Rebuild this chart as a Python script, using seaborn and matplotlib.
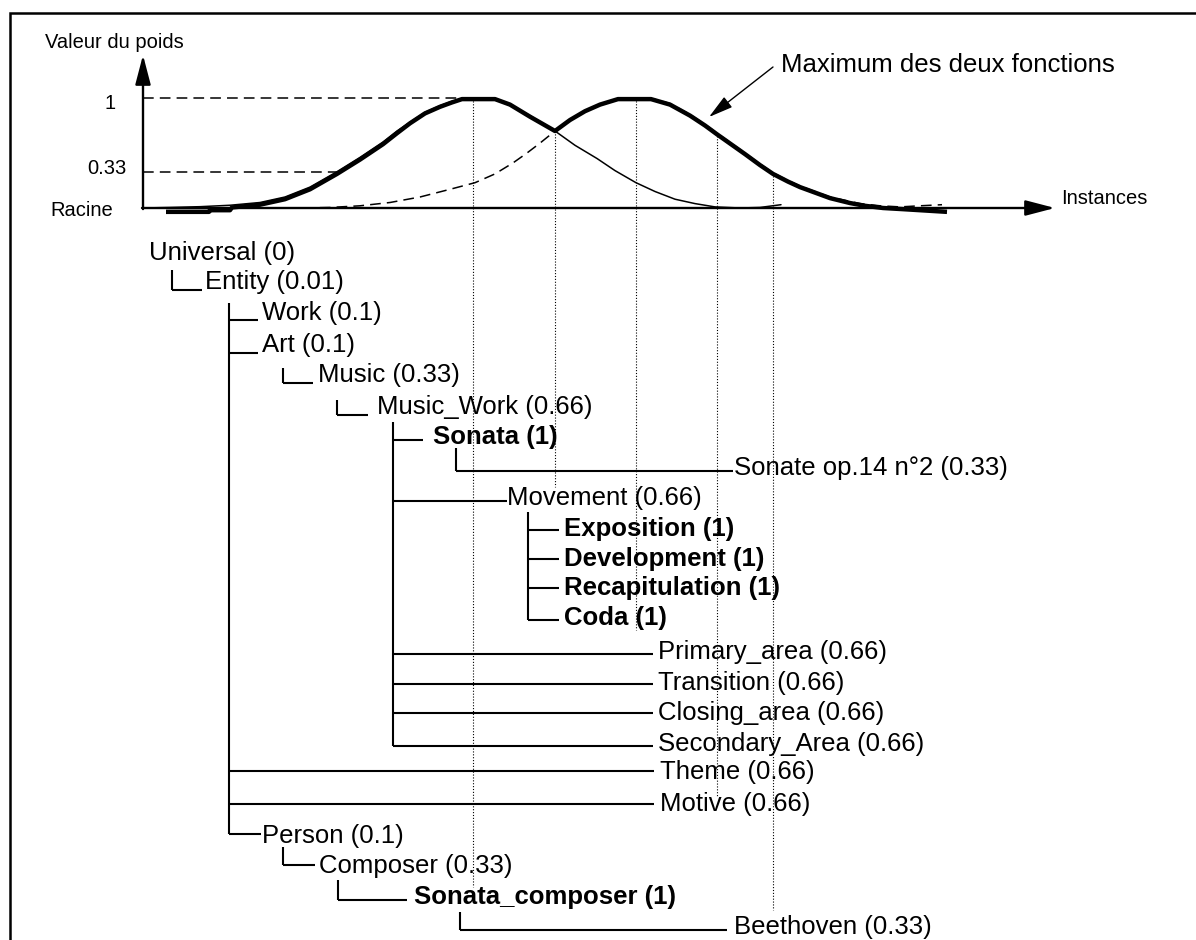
import matplotlib
matplotlib.use("Agg")
import matplotlib.pyplot as plt
import seaborn as sns

sns.set_theme(style="white")
plt.rcParams['font.family'] = ['Liberation Sans', 'DejaVu Sans']
plt.rcParams['text.color'] = 'black'

# ---------------- data ----------------
# instance positions (arbitrary units) and weight values of the two functions
f1_inst = [0, 27, 57, 87, 117, 142, 167, 194, 217, 240, 254, 267, 282, 297, 309, 319,
           334, 349, 367, 387, 412, 432, 454, 472, 493, 512, 532, 552, 572, 597, 617, 638]
f1_w = [0.0, 0.005, 0.012, 0.025, 0.05, 0.10, 0.19, 0.33, 0.46, 0.60, 0.70, 0.78, 0.87,
        0.93, 0.97, 0.99, 1.0, 0.99, 0.94, 0.84, 0.70, 0.57, 0.45, 0.34, 0.23, 0.15, 0.08,
        0.04, 0.01, 0.0, 0.005, 0.03]

f2_inst = [160, 187, 217, 247, 277, 307, 332, 352, 370, 384, 397, 412, 427, 442, 457,
           475, 493, 511, 527, 547, 562, 574, 588, 602, 617, 630, 645, 657, 672, 687,
           702, 717, 737, 757, 777, 799]
f2_w = [0.0, 0.005, 0.02, 0.05, 0.10, 0.17, 0.23, 0.31, 0.41, 0.50, 0.59, 0.70, 0.80,
        0.88, 0.94, 0.99, 1.0, 0.99, 0.95, 0.85, 0.76, 0.68, 0.59, 0.50, 0.40, 0.32, 0.25,
        0.20, 0.15, 0.10, 0.07, 0.04, 0.02, 0.01, 0.02, 0.03]

max_inst = [23, 66, 67, 87, 89, 117, 142, 167, 194, 217, 240, 254, 267, 282, 297, 309,
            319, 352, 367, 387, 412, 427, 442, 457, 475, 508, 527, 547, 562, 574, 588,
            602, 617, 630, 645, 657, 672, 687, 707, 722, 740, 759, 804]
max_w = [-0.035, -0.035, -0.02, -0.02, 0.005, 0.03, 0.08, 0.17, 0.31, 0.44, 0.58, 0.68,
         0.77, 0.86, 0.92, 0.96, 0.99, 0.99, 0.94, 0.83, 0.70, 0.80, 0.88, 0.94, 0.99,
         0.99, 0.94, 0.84, 0.75, 0.67, 0.58, 0.49, 0.39, 0.31, 0.24, 0.19, 0.14, 0.09,
         0.045, 0.02, 0.0, -0.01, -0.035]

tick_weights = [1, 0.33]
tick_labels = ["1", "0.33"]
tick_ref_end = [330, 194]          # where the dashed reference lines stop

guide_inst = [330, 412, 493, 574, 630]   # dotted guides
guide_w = [1.0, 0.70, 1.0, 0.68, 0.32]

node_names = ["Universal", "Entity", "Work", "Art", "Music", "Music_Work", "Sonata",
              "Sonate op.14 n°2", "Movement", "Exposition", "Development",
              "Recapitulation", "Coda", "Primary_area", "Transition", "Closing_area",
              "Secondary_Area", "Theme", "Motive", "Person", "Composer",
              "Sonata_composer", "Beethoven"]
node_weights = [0, 0.01, 0.1, 0.1, 0.33, 0.66, 1, 0.33, 0.66, 1, 1, 1, 1, 0.66, 0.66,
                0.66, 0.66, 0.66, 0.66, 0.1, 0.33, 1, 0.33]
node_parent = [-1, 0, 1, 1, 3, 4, 5, 6, 5, 8, 8, 8, 8, 5, 5, 5, 5, 1, 1, 1, 19, 20, 21]

# ---------------- layout (pixels) ----------------
W, H = 1196, 940
text_x = [149, 205, 262, 262, 318, 377, 433, 734, 507, 564, 564, 564, 564, 658, 658,
          658, 658, 660, 660, 262, 319, 414, 734]
text_y = [253, 282, 313, 345, 375, 407, 437, 468, 498, 529, 559, 588, 618, 652, 683,
          713, 744, 772, 804, 836, 866, 897, 927]
link_y = [None, 290, 320, 353, 383, 415, 440, 471, 501, 530, 559, 588, 620, 654, 684,
          713, 746, 771, 804, 834, 865, 900, 930]
link_end = [None, 202, 258, 258, 313, 368, 423, 733, 507, 559, 559, 559, 559, 653, 653,
            653, 653, 654, 654, 261, 315, 407, 727]
trunk = {0: (172, 270), 1: (229, 303), 3: (283, 368), 4: (337, 400), 5: (393, 422),
         6: (456, 448), 8: (528, 512), 19: (283, 847), 20: (338, 880), 21: (460, 912)}
guide_bottom = [887, 487, 630, 797, 910]
tick_label_offset = [(-27, -5), (-17, 3)]   # offset pixels of the weight labels

FS = 18.5
FS_S = 14.5

fig = plt.figure(figsize=(W / 100, H / 100), dpi=100)
ax_t = fig.add_axes([0, 0, 1, 1])
ax_t.set_xlim(0, W)
ax_t.set_ylim(H, 0)
ax_t.axis('off')

ax_c = fig.add_axes([143 / W, 1 - 208 / H, 912 / W, 153 / H])
ax_c.patch.set_visible(False)

# frame
ax_t.plot([9.5, 9.5, W + 5], [H + 5, 13, 13], color='black', lw=1.8,
          solid_joinstyle='miter', clip_on=False)

# curves
sns.lineplot(x=f1_inst, y=f1_w, ax=ax_c, color='black', lw=1.1, sort=False,
             estimator=None, clip_on=False)
sns.lineplot(x=f2_inst, y=f2_w, ax=ax_c, color='black', lw=1.1, sort=False,
             estimator=None, clip_on=False, linestyle=(0, (7, 4)))
sns.lineplot(x=max_inst, y=max_w, ax=ax_c, color='black', lw=3.2, sort=False,
             estimator=None, clip_on=False, solid_capstyle='butt',
             solid_joinstyle='round')

ax_c.set_xlim(0, 912)
ax_c.set_ylim(0, 1.391)
ax_c.axis('off')

# dashed reference lines and weight labels
for w, lab, xe, off in zip(tick_weights, tick_labels, tick_ref_end, tick_label_offset):
    ax_c.plot([0, xe], [w, w], color='black', lw=1.1, linestyle=(0, (7, 4)), clip_on=False)
    ax_c.annotate(lab, xy=(0, w), xycoords='data', xytext=off,
                  textcoords='offset pixels', ha='right', va='center', fontsize=FS_S)

# axes arrows
arrow_kw = dict(arrowstyle='-|>,head_length=1.8,head_width=0.47', lw=1.7, color='black',
                shrinkA=0, shrinkB=0, mutation_scale=10)
ax_c.annotate("", xy=(0, 1.391), xytext=(0, -0.01), arrowprops=arrow_kw,
              annotation_clip=False)
ax_c.annotate("", xy=(912, 0), xytext=(-1, 0), arrowprops=arrow_kw,
              annotation_clip=False)

ax_t.text(45, 43, "Valeur du poids", fontsize=FS_S, ha='left', va='center')
ax_t.text(50, 210, "Racine", fontsize=FS_S, ha='left', va='center')
ax_t.text(1061, 198, "Instances", fontsize=FS_S, ha='left', va='center')
ax_t.text(781, 65, "Maximum des deux fonctions", fontsize=FS, ha='left', va='center')
ax_t.annotate("", xy=(709, 117), xytext=(773, 67),
              arrowprops=dict(arrowstyle='-|>,head_length=1.5,head_width=0.4', lw=1.0,
                              color='black', shrinkA=0, shrinkB=0, mutation_scale=10))

# dotted guides from the curves down to the tree
to_pix = ax_c.transData + ax_t.transData.inverted()
for gi, gw, gb in zip(guide_inst, guide_w, guide_bottom):
    px, py = to_pix.transform((gi, gw))
    ax_t.plot([px, px], [py, gb], color='black', lw=0.8, linestyle=(0, (1, 1.6)))

# tree connectors
for p, (tx, ttop) in trunk.items():
    kids = [i for i, q in enumerate(node_parent) if q == p]
    bottom = max(link_y[i] for i in kids)
    ax_t.plot([tx, tx], [ttop, bottom], color='black', lw=1.5, solid_capstyle='butt')
    for i in kids:
        ax_t.plot([tx, link_end[i]], [link_y[i], link_y[i]], color='black', lw=1.5,
                  solid_capstyle='butt')

# tree labels
for i, (nm, w) in enumerate(zip(node_names, node_weights)):
    ax_t.text(text_x[i], text_y[i], f"{nm} ({w:g})", fontsize=FS, ha='left', va='center',
              fontweight='bold' if w == 1 else 'normal')

fig.savefig("out.png", dpi=100)
